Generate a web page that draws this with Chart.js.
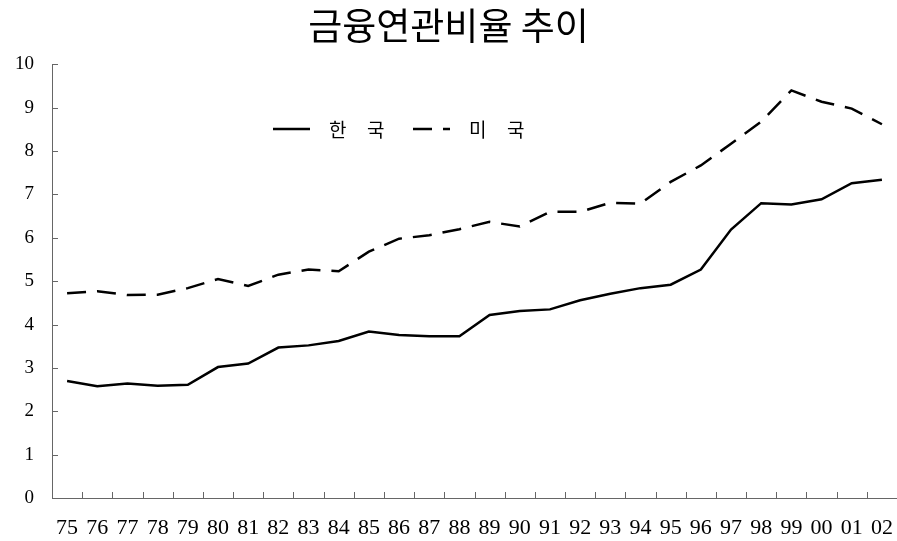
<!DOCTYPE html>
<html lang="ko">
<head>
<meta charset="utf-8">
<title>금융연관비율 추이</title>
<script src="https://cdn.jsdelivr.net/npm/chart.js@4/dist/chart.umd.min.js"></script>
<style>
  html, body { margin: 0; padding: 0; background: #fff; }
  #wrap { width: 897px; height: 541px; }
</style>
</head>
<body>
<div id="wrap"><canvas id="chart" width="897" height="541"></canvas></div>
<script>
// 데이터
const years = ['75','76','77','78','79','80','81','82','83','84','85','86','87','88',
               '89','90','91','92','93','94','95','96','97','98','99','00','01','02'];
const koreaRatio = [2.70, 2.58, 2.64, 2.59, 2.61, 3.02, 3.10, 3.47, 3.52, 3.62, 3.84, 3.76, 3.73, 3.73,
                    4.22, 4.31, 4.35, 4.56, 4.71, 4.84, 4.92, 5.27, 6.19, 6.80, 6.77, 6.89, 7.26, 7.34];
const usRatio = [4.72, 4.77, 4.68, 4.69, 4.84, 5.05, 4.89, 5.15, 5.27, 5.23, 5.68, 5.98, 6.06, 6.20,
                 6.37, 6.26, 6.60, 6.60, 6.81, 6.79, 7.29, 7.67, 8.17, 8.68, 9.40, 9.14, 8.98, 8.62];
const seriesNames = ['한 국', '미 국'];
const yTicks = [0, 1, 2, 3, 4, 5, 6, 7, 8, 9, 10];

const AXIS_COLOR = '#666';

// 축 안쪽으로 들어가는 눈금
const innerTicks = {
    id: 'innerTicks',
    afterDraw(chart) {
        const ctx = chart.ctx;
        const x = chart.scales.x, y = chart.scales.y;
        const area = chart.chartArea;
        ctx.save();
        ctx.strokeStyle = AXIS_COLOR;
        ctx.lineWidth = 1;
        ctx.beginPath();
        yTicks.forEach(v => {
            const py = Math.round(y.getPixelForValue(v)) + 0.5;
            ctx.moveTo(area.left, py);
            ctx.lineTo(area.left + 6, py);
        });
        for (let i = 0; i < years.length - 1; i++) {
            const px = Math.round((x.getPixelForValue(i) + x.getPixelForValue(i + 1)) / 2) + 0.5;
            ctx.moveTo(px, area.bottom);
            ctx.lineTo(px, area.bottom - 6);
        }
        ctx.stroke();
        ctx.restore();
    }
};

// 범례 (차트 안쪽에 배치)
const insideLegend = {
    id: 'insideLegend',
    afterDraw(chart) {
        const ctx = chart.ctx;
        const starts = [273, 413];
        const ly = 129;
        ctx.save();
        chart.data.datasets.forEach((ds, i) => {
            const x0 = starts[i];
            ctx.strokeStyle = ds.borderColor;
            ctx.lineWidth = ds.borderWidth;
            ctx.setLineDash(ds.borderDash || []);
            ctx.beginPath();
            ctx.moveTo(x0, ly);
            ctx.lineTo(x0 + 37, ly);
            ctx.stroke();
            ctx.setLineDash([]);
            ctx.fillStyle = '#000';
            ctx.font = '19px "Noto Sans CJK KR"';
            ctx.textBaseline = 'middle';
            ctx.textAlign = 'left';
            // 글자 사이를 넓게 벌려서 표시
            const chars = ds.label.replace(/ /g, '').split('');
            chars.forEach((c, k) => ctx.fillText(c, x0 + 56 + k * 38, ly + 1));
        });
        ctx.restore();
    }
};

const ctx = document.getElementById('chart').getContext('2d');
const chart = new Chart(ctx, {
    type: 'line',
    data: {
        labels: years,
        datasets: [
            { label: seriesNames[0], data: koreaRatio, borderColor: '#000', borderWidth: 2.5,
              pointRadius: 0, tension: 0, fill: false },
            { label: seriesNames[1], data: usRatio, borderColor: '#000', borderWidth: 2.5,
              borderDash: [19, 11], pointRadius: 0, tension: 0, fill: false }
        ]
    },
    options: {
        responsive: false, animation: false, devicePixelRatio: 1,
        layout: { padding: { left: 0, right: 0, top: 0, bottom: 0 } },
        plugins: {
            legend: { display: false },
            tooltip: { enabled: false },
            title: {
                display: true, text: '금융연관비율 추이', color: '#000',
                font: { family: '"Noto Sans CJK KR"', size: 37, weight: 'normal', lineHeight: 1.2 },
                padding: { top: 4, bottom: 16 }
            }
        },
        scales: {
            x: {
                offset: true,
                grid: { display: false, drawTicks: false },
                border: { display: true, color: AXIS_COLOR, width: 1 },
                ticks: { color: '#000', font: { family: '"Liberation Serif"', size: 22 },
                         padding: 17, maxRotation: 0, autoSkip: false },
                afterFit: s => { s.height = 43; s.paddingLeft = 0; s.paddingRight = 0; }
            },
            y: {
                min: 0, max: 10,
                grid: { display: false, drawTicks: false },
                border: { display: true, color: AXIS_COLOR, width: 1 },
                ticks: { stepSize: 1, color: '#000', font: { family: '"Liberation Serif"', size: 19 },
                         padding: 18 },
                afterBuildTicks: s => { s.ticks = yTicks.map(v => ({ value: v })); },
                afterFit: s => { s.width = 52; }
            }
        }
    },
    plugins: [innerTicks, insideLegend]
});
</script>
</body>
</html>
